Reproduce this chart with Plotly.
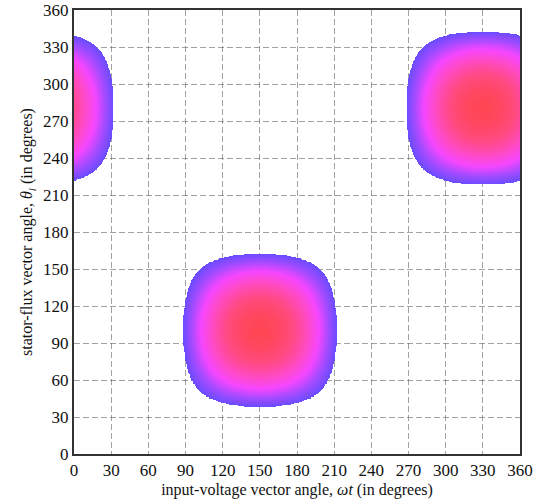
import numpy as np
import plotly.graph_objects as go

# --- data ---
blob_center_x = [150.0, 330.0]     # deg, input-voltage vector angle of each region centre
blob_center_y = [100.5, 280.5]     # deg, stator-flux vector angle of each region centre
blob_half_width = [62.0, 62.0]     # deg, half extent of each region along its axes
bump_zero = 75.0                   # deg, distance at which the bump profile reaches zero
tick_vals = [0, 30, 60, 90, 120, 150, 180, 210, 240, 270, 300, 330, 360]
tick_text = [str(v) for v in tick_vals]

step = 0.5
xs = np.arange(0, 360 + step / 2, step)
ys = np.arange(0, 360 + step / 2, step)
X, Y = np.meshgrid(xs, ys)

Z = np.full(X.shape, np.nan)
k = np.pi / (2 * bump_zero)
for cx, cy, hw in zip(blob_center_x, blob_center_y, blob_half_width):
    dx = (X - cx + 180) % 360 - 180
    dy = (Y - cy + 180) % 360 - 180
    inside = (np.abs(dx) < bump_zero) & (np.abs(dy) < bump_zero)
    val = np.where(inside, np.cos(k * dx) * np.cos(k * dy), 0)
    thr = np.cos(k * hw)
    mask = val >= thr
    Z = np.where(mask, np.fmax(np.nan_to_num(Z, nan=-1), val), Z)

thr0 = float(np.cos(k * blob_half_width[0]))

colorscale = [
    [0.0, "#6a4cff"],
    [0.18, "#a44bff"],
    [0.38, "#f646ff"],
    [0.58, "#ff4ac4"],
    [0.8, "#ff4a80"],
    [1.0, "#ff4655"],
]

fig = go.Figure(
    go.Heatmap(
        x=xs,
        y=ys,
        z=Z.astype(np.float32),
        colorscale=colorscale,
        zmin=thr0,
        zmax=1.0,
        showscale=False,
        zsmooth=False,
        hoverinfo="skip",
    )
)

axis_common = dict(
    range=[0, 360],
    tickmode="array",
    tickvals=tick_vals,
    ticktext=tick_text,
    showgrid=True,
    gridcolor="rgba(100,100,100,0.6)",
    gridwidth=1,
    griddash="6px,3px",
    showline=True,
    linecolor="#333333",
    linewidth=2,
    mirror=True,
    ticks="",
    zeroline=False,
    automargin=False,
    layer="above traces",
    tickfont=dict(family="Liberation Serif", size=17, color="#111111"),
    title_font=dict(family="Liberation Serif", size=16, color="#111111"),
)

fig.update_layout(
    width=540,
    height=504,
    margin=dict(l=74, r=20, t=10, b=50),
    paper_bgcolor="white",
    plot_bgcolor="white",
    xaxis=dict(axis_common, title=dict(text="input-voltage vector angle, <i>ωt</i> (in degrees)", standoff=4)),
    yaxis=dict(axis_common, title=dict(text="stator-flux vector angle, <i>θ<sub>l</sub></i> (in degrees)", standoff=6)),
)

fig.write_html(
    "out.html",
    config={"displayModeBar": False},
    post_script="document.body.style.margin='0';document.body.style.padding='0';",
)
